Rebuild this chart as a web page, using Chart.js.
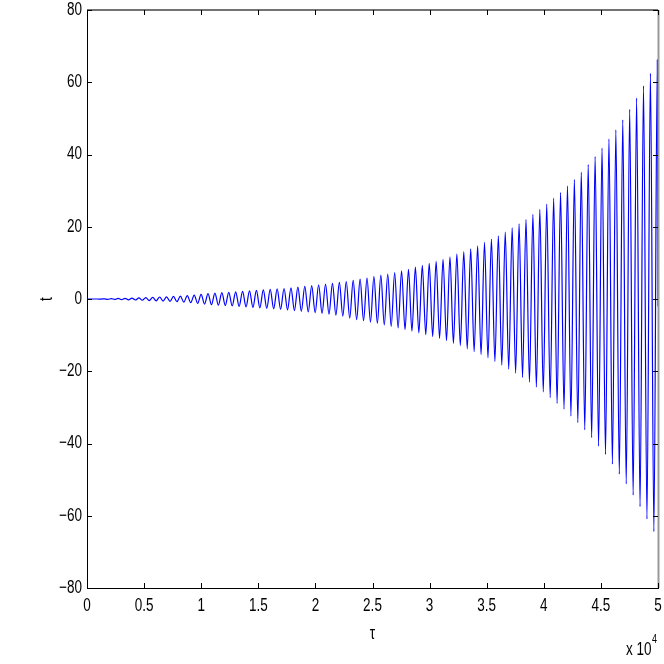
<!DOCTYPE html>
<html lang="en">
<head>
<meta charset="UTF-8">
<title>t against tau</title>
<script src="https://cdn.jsdelivr.net/npm/chart.js"></script>
<style>
  html, body { margin: 0; padding: 0; background: #fff; }
  #wrap { width: 664px; height: 664px; }
</style>
</head>
<body>
<div id="wrap"><canvas id="chart"></canvas></div>
<script>
// maxima of the curve (tau, t)
const peakTau = [307, 912, 1518, 2123, 2728, 3334, 3939, 4544, 5149, 5755,
  6360, 6965, 7571, 8176, 8781, 9387, 9992, 10597, 11202, 11808,
  12413, 13018, 13624, 14229, 14834, 15440, 16045, 16650, 17255, 17861,
  18466, 19071, 19677, 20282, 20887, 21493, 22098, 22703, 23308, 23914,
  24519, 25124, 25730, 26335, 26940, 27546, 28151, 28756, 29361, 29967,
  30572, 31177, 31783, 32388, 32993, 33599, 34204, 34809, 35414, 36020,
  36625, 37230, 37836, 38441, 39046, 39652, 40257, 40862, 41467, 42073,
  42678, 43283, 43889, 44494, 45099, 45705, 46310, 46915, 47520, 48126,
  48731, 49336, 49942];
const peakT = [0, 0, 0.05, 0.1, 0.15, 0.2, 0.25, 0.3, 0.4, 0.45,
  0.55, 0.6, 0.7, 0.8, 0.95, 1.1, 1.3, 1.5, 1.65, 1.75,
  1.85, 2.0, 2.1, 2.25, 2.4, 2.5, 2.65, 2.8, 2.9, 3.1,
  3.3, 3.5, 3.7, 3.95, 4.1, 4.35, 4.6, 4.85, 5.15, 5.5,
  5.8, 6.2, 6.6, 6.9, 7.3, 7.8, 8.2, 8.8, 9.3, 9.9,
  10.4, 11.0, 11.7, 12.5, 13.1, 13.9, 14.7, 15.7, 16.6, 17.5,
  18.5, 19.7, 20.8, 22.0, 23.4, 24.8, 26.3, 27.9, 29.5, 31.3,
  33.1, 35.1, 37.2, 39.4, 41.8, 44.3, 46.8, 49.6, 52.5, 55.6,
  59.0, 62.5, 66.2];

// minima of the curve
const troughTau = [0, 609, 1215, 1820, 2425, 3031, 3636, 4241, 4846, 5452,
  6057, 6662, 7268, 7873, 8478, 9084, 9689, 10294, 10899, 11505,
  12110, 12715, 13321, 13926, 14531, 15137, 15742, 16347, 16952, 17558,
  18163, 18768, 19374, 19979, 20584, 21190, 21795, 22400, 23005, 23611,
  24216, 24821, 25427, 26032, 26637, 27243, 27848, 28453, 29058, 29664,
  30269, 30874, 31480, 32085, 32690, 33296, 33901, 34506, 35111, 35717,
  36322, 36927, 37533, 38138, 38743, 39349, 39954, 40559, 41164, 41770,
  42375, 42980, 43586, 44191, 44796, 45402, 46007, 46612, 47217, 47823,
  48428, 49033, 49639];
const troughT = [0, 0, -0.03, -0.08, -0.13, -0.18, -0.23, -0.28, -0.35, -0.43,
  -0.5, -0.58, -0.65, -0.75, -0.88, -1.03, -1.2, -1.4, -1.58, -1.7,
  -1.8, -1.92, -2.05, -2.18, -2.32, -2.45, -2.58, -2.72, -2.85, -3.0,
  -3.2, -3.4, -3.6, -3.82, -4.0, -4.22, -4.47, -4.75, -5.3, -5.7,
  -6.0, -6.4, -6.7, -7.2, -7.6, -8.0, -8.5, -8.9, -9.4, -9.9,
  -10.4, -10.9, -11.5, -12.3, -12.9, -13.8, -14.6, -15.4, -16.3, -17.3,
  -18.3, -19.4, -20.5, -21.7, -23.0, -24.4, -25.7, -27.3, -28.9, -30.5,
  -32.4, -34.2, -36.2, -38.4, -40.7, -43.0, -45.7, -48.5, -51.2, -54.3,
  -57.5, -60.9, -64.4];

// last sample, on the right edge
const endTau = 50000;
const endT = -2;

const xTicks = [0, 5000, 10000, 15000, 20000, 25000, 30000, 35000, 40000, 45000, 50000];
const yTicks = [-80, -60, -40, -20, 0, 20, 40, 60, 80];

// interleave minima and maxima into one line
const points = [];
for (let i = 0; i < peakTau.length; i++) {
  points.push({ x: troughTau[i], y: troughT[i] });
  points.push({ x: peakTau[i], y: peakT[i] });
}
points.push({ x: endTau, y: endT });

const FONT = "'Liberation Sans', Arial, sans-serif";

// text squeezed sideways, like the narrow helvetica of the original
function narrowText(ctx, text, x, y, size, align, baseline) {
  ctx.save();
  ctx.font = size + 'px ' + FONT;
  ctx.textAlign = align;
  ctx.textBaseline = baseline;
  ctx.translate(x, y);
  ctx.scale(0.75, 1);
  ctx.fillText(text, 0, 0);
  ctx.restore();
}

// box, inward ticks and all labels in the matlab style
const framePlugin = {
  id: 'frame',
  afterDraw(chart) {
    const { ctx, chartArea: a, scales } = chart;
    ctx.save();
    // top and right edges
    ctx.strokeStyle = '#444';
    ctx.lineWidth = 1.5;
    ctx.beginPath();
    ctx.moveTo(a.left, a.top);
    ctx.lineTo(a.right, a.top);
    ctx.stroke();
    ctx.strokeStyle = '#999';
    ctx.lineWidth = 2;
    ctx.beginPath();
    ctx.moveTo(a.right + 0.5, a.top);
    ctx.lineTo(a.right + 0.5, a.bottom);
    ctx.stroke();

    ctx.strokeStyle = '#000';
    ctx.lineWidth = 1;
    ctx.beginPath();
    xTicks.forEach(v => {
      const x = Math.round(scales.x.getPixelForValue(v)) + 0.5;
      ctx.moveTo(x, a.bottom); ctx.lineTo(x, a.bottom - 5);
      ctx.moveTo(x, a.top); ctx.lineTo(x, a.top + 5);
    });
    yTicks.forEach(v => {
      const y = Math.round(scales.y.getPixelForValue(v)) + 0.5;
      ctx.moveTo(a.left, y); ctx.lineTo(a.left + 5, y);
      ctx.moveTo(a.right, y); ctx.lineTo(a.right - 5, y);
    });
    ctx.stroke();

    ctx.fillStyle = '#000';
    xTicks.forEach(v => {
      narrowText(ctx, String(v / 10000), scales.x.getPixelForValue(v), 606, 18, 'center', 'middle');
    });
    yTicks.forEach(v => {
      const s = v < 0 ? '\u2212' + Math.abs(v) : String(v);
      narrowText(ctx, s, 82, scales.y.getPixelForValue(v), 18, 'right', 'middle');
    });

    narrowText(ctx, '\u03c4', (a.left + a.right) / 2, 634, 18, 'center', 'middle');
    ctx.save();
    ctx.translate(47, (a.top + a.bottom) / 2);
    ctx.rotate(-Math.PI / 2);
    narrowText(ctx, 't', 0, 0, 18, 'center', 'middle');
    ctx.restore();
    narrowText(ctx, 'x 10', 626, 655, 18, 'left', 'alphabetic');
    narrowText(ctx, '4', 652, 643, 12, 'left', 'alphabetic');
    ctx.restore();
  }
};

new Chart(document.getElementById('chart'), {
  type: 'line',
  data: {
    datasets: [{
      data: points,
      borderColor: '#0000ff',
      borderWidth: 1.2,
      pointRadius: 0,
      fill: false,
      cubicInterpolationMode: 'monotone'
    }]
  },
  options: {
    responsive: true,
    maintainAspectRatio: false,
    animation: false,
    layout: { padding: { top: 10, right: 6, left: 0, bottom: 0 } },
    plugins: { legend: { display: false }, tooltip: { enabled: false } },
    scales: {
      x: {
        type: 'linear',
        min: 0,
        max: 50000,
        afterBuildTicks: s => { s.ticks = xTicks.map(v => ({ value: v })); },
        afterFit: s => { s.height = 76; },
        grid: { display: false, drawTicks: false },
        border: { display: true, color: '#000', width: 1 },
        ticks: { display: false }
      },
      y: {
        type: 'linear',
        min: -80,
        max: 80,
        afterBuildTicks: s => { s.ticks = yTicks.map(v => ({ value: v })); },
        afterFit: s => { s.width = 87; },
        grid: { display: false, drawTicks: false },
        border: { display: true, color: '#000', width: 1 },
        ticks: { display: false }
      }
    }
  },
  plugins: [framePlugin]
});
</script>
</body>
</html>
